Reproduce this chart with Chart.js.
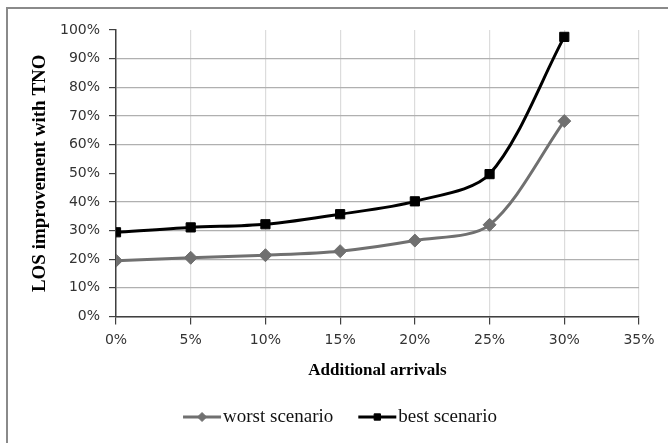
<!DOCTYPE html>
<html>
<head>
<meta charset="utf-8">
<script src="https://cdn.jsdelivr.net/npm/chart.js@4.4.1/dist/chart.umd.min.js"></script>
<style>
  html, body { margin: 0; padding: 0; background: #fff; overflow: hidden; }
  #frame { position: absolute; left: 6px; top: 7px; width: 700px; height: 500px;
           border-left: 2px solid #8a8a8a; border-top: 2px solid #8a8a8a; }
  #chart { position: absolute; left: 0; top: 0; }
</style>
</head>
<body>
<div id="frame"></div>
<canvas id="chart" width="668" height="443"></canvas>
<script>
// values (percent)
const arrivals = [0, 5, 10, 15, 20, 25, 30];
const worstScenario = [19.5, 20.5, 21.4, 22.8, 26.5, 32.0, 68.2];
const bestScenario = [29.4, 31.1, 32.2, 35.7, 40.2, 49.7, 97.6];
const seriesNames = ["worst scenario", "best scenario"];
const xTitle = "Additional arrivals";
const yTitle = "LOS improvement with TNO";

const pts = (ys) => arrivals.map((x, i) => ({ x: x, y: ys[i] }));

// legend drawn as line + marker samples, like the spreadsheet one
const lineLegend = {
    id: "lineLegend",
    afterDraw(chart, args, opts) {
        const ctx = chart.ctx;
        ctx.save();
        ctx.font = opts.font;
        const items = chart.data.datasets.map(ds => ({ ds, w: ctx.measureText(ds.label).width }));
        const total = items.reduce((s, it) => s + opts.sampleWidth + opts.textGap + it.w, 0)
            + opts.itemGap * (items.length - 1);
        let x = opts.centerX - total / 2;
        const y = opts.y;
        items.forEach(it => {
            const ds = it.ds;
            ctx.strokeStyle = ds.borderColor;
            ctx.lineWidth = ds.borderWidth;
            ctx.beginPath();
            ctx.moveTo(x, y);
            ctx.lineTo(x + opts.sampleWidth, y);
            ctx.stroke();
            ctx.fillStyle = ds.pointBackgroundColor;
            ctx.strokeStyle = ds.pointBorderColor;
            ctx.lineWidth = 1;
            Chart.helpers.drawPoint(ctx, {
                pointStyle: ds.pointStyle, radius: opts.pointRadius, borderWidth: 1, rotation: 0
            }, x + opts.sampleWidth / 2, y);
            ctx.fillStyle = opts.color;
            ctx.textAlign = "left";
            ctx.textBaseline = "middle";
            ctx.fillText(ds.label, x + opts.sampleWidth + opts.textGap, y);
            x += opts.sampleWidth + opts.textGap + it.w + opts.itemGap;
        });
        ctx.restore();
    }
};

const tickFont = { family: "DejaVu Sans", size: 14 };
const titleFont = { family: "Liberation Serif", size: 17, weight: "bold" };

const myChart = new Chart(document.getElementById("chart").getContext("2d"), {
    type: "line",
    data: {
        datasets: [
            {
                label: seriesNames[0],
                data: pts(worstScenario),
                borderColor: "#707070",
                borderWidth: 3,
                pointStyle: "rectRot",
                pointRadius: 6.5,
                pointBackgroundColor: "#707070",
                pointBorderColor: "#707070",
                pointBorderWidth: 1,
                tension: 0.3,
                fill: false,
            },
            {
                label: seriesNames[1],
                data: pts(bestScenario),
                borderColor: "#000000",
                borderWidth: 3,
                pointStyle: "rect",
                pointRadius: 6.5,
                pointBackgroundColor: "#000000",
                pointBorderColor: "#000000",
                pointBorderWidth: 1,
                tension: 0.3,
                fill: false,
            },
        ],
    },
    options: {
        responsive: false,
        animation: false,
        devicePixelRatio: 1,
        layout: { padding: { left: 0, right: 29, top: 30, bottom: 0 } },
        scales: {
            x: {
                type: "linear",
                min: 0,
                max: 35,
                ticks: {
                    stepSize: 5,
                    padding: 7,
                    color: "#333",
                    font: tickFont,
                    maxRotation: 0,
                    callback: (v) => v + "%",
                },
                grid: { color: "#dcdcdc", lineWidth: 1.2, tickColor: "#404040", tickLength: 8, tickWidth: 1.2 },
                border: { color: "#404040", width: 1.5 },
                title: { display: true, text: xTitle, color: "#000", font: titleFont, padding: { top: 0, bottom: 62 } },
                afterFit: (s) => { s.height = 126.5; },
            },
            y: {
                min: 0,
                max: 100,
                ticks: {
                    stepSize: 10,
                    padding: 9,
                    color: "#333",
                    font: tickFont,
                    callback: (v) => v + "%",
                },
                grid: {
                    color: (c) => (c.tick && (c.tick.value === 50 || c.tick.value === 100)) ? "rgba(0,0,0,0)" : "#b0b0b0",
                    lineWidth: 1.2,
                    tickColor: "#404040",
                    tickLength: 7,
                    tickWidth: 1.2,
                },
                border: { color: "#404040", width: 1.5 },
                title: { display: true, text: yTitle, color: "#000", font: { family: "Liberation Serif", size: 19, weight: "bold" }, padding: { top: 29, bottom: 0 } },
                afterFit: (s) => { s.width = 116; },
            },
        },
        plugins: {
            legend: { display: false },
            tooltip: { enabled: false },
            lineLegend: {
                font: "19px 'Liberation Serif'",
                color: "#111",
                sampleWidth: 38,
                textGap: 2,
                itemGap: 25,
                pointRadius: 4.5,
                centerX: 340,
                y: 417,
            },
        },
    },
    plugins: [lineLegend],
});
</script>
</body>
</html>
